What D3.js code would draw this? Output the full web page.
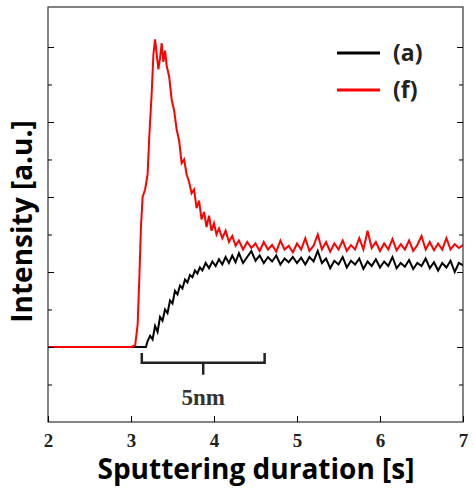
<!DOCTYPE html>
<html><head><meta charset="utf-8">
<script src="https://cdn.jsdelivr.net/npm/d3@7/dist/d3.min.js"></script>
<style>body{margin:0;background:#fff}</style></head>
<body><svg id="c" width="474" height="496"></svg>
<script>
const xTicks=[2,3,4,5,6,7];
const yMajor=[0,1,2,3,4];
const yMinor=[-0.5,0.5,1.5,2.5,3.5];
const seriesNames=["(a)","(f)"];
const seriesColors=["#000000","#ff0000"];
const redData=[[2,0],[3.0,0],[3.05,0.02],[3.08,0.3],[3.1,0.9],[3.12,1.6],[3.14,2.0],[3.17,2.1],[3.2,2.3],[3.22,2.8],[3.25,3.4],[3.27,3.9],[3.29,4.1],[3.31,3.9],[3.33,3.7],[3.35,3.85],[3.37,4.05],[3.39,3.8],[3.41,3.95],[3.43,3.75],[3.46,3.6],[3.49,3.3],[3.52,3.15],[3.55,2.9],[3.58,2.75],[3.61,2.45],[3.64,2.5],[3.67,2.3],[3.7,2.2],[3.73,2.05],[3.76,2.1],[3.79,1.85],[3.82,1.95],[3.85,1.7],[3.88,1.8],[3.91,1.6],[3.94,1.75],[3.97,1.55],[4.0,1.65],[4.03,1.5],[4.06,1.58],[4.1,1.45],[4.14,1.55],[4.18,1.4],[4.22,1.48],[4.26,1.35],[4.3,1.42],[4.35,1.3],[4.4,1.4],[4.45,1.32],[4.5,1.38],[4.55,1.28],[4.6,1.4],[4.65,1.3],[4.7,1.36],[4.75,1.27],[4.8,1.42],[4.85,1.3],[4.9,1.35],[4.95,1.26],[5.0,1.38],[5.05,1.3],[5.1,1.45],[5.15,1.28],[5.2,1.35],[5.25,1.5],[5.3,1.3],[5.35,1.4],[5.4,1.27],[5.45,1.38],[5.5,1.3],[5.55,1.42],[5.6,1.28],[5.65,1.36],[5.7,1.3],[5.75,1.45],[5.8,1.3],[5.85,1.55],[5.9,1.32],[5.95,1.4],[6.0,1.28],[6.05,1.38],[6.1,1.3],[6.15,1.44],[6.2,1.29],[6.25,1.37],[6.3,1.3],[6.35,1.42],[6.4,1.28],[6.45,1.36],[6.5,1.48],[6.55,1.3],[6.6,1.4],[6.65,1.29],[6.7,1.38],[6.75,1.3],[6.8,1.45],[6.85,1.3],[6.9,1.37],[6.95,1.32],[7.05,1.4]];
const blackData=[[2,0],[3.18,0],[3.2,0.08],[3.23,0.15],[3.26,0.1],[3.29,0.28],[3.32,0.2],[3.35,0.4],[3.38,0.35],[3.41,0.5],[3.44,0.45],[3.47,0.62],[3.5,0.58],[3.53,0.75],[3.56,0.7],[3.59,0.82],[3.62,0.78],[3.65,0.9],[3.68,0.86],[3.71,0.96],[3.74,0.93],[3.77,1.02],[3.8,0.98],[3.83,1.06],[3.86,1.02],[3.9,1.12],[3.94,1.05],[3.98,1.14],[4.02,1.08],[4.06,1.17],[4.1,1.1],[4.14,1.2],[4.18,1.12],[4.22,1.22],[4.26,1.13],[4.3,1.25],[4.35,1.12],[4.4,1.2],[4.45,1.28],[4.5,1.15],[4.55,1.22],[4.6,1.12],[4.65,1.2],[4.7,1.14],[4.75,1.22],[4.8,1.1],[4.85,1.18],[4.9,1.13],[4.95,1.2],[5.0,1.12],[5.05,1.19],[5.1,1.1],[5.15,1.2],[5.2,1.14],[5.25,1.28],[5.3,1.12],[5.35,1.18],[5.4,1.05],[5.45,1.15],[5.5,1.1],[5.55,1.2],[5.6,1.06],[5.65,1.15],[5.7,1.1],[5.75,1.18],[5.8,1.04],[5.85,1.14],[5.9,1.08],[5.95,1.17],[6.0,1.06],[6.05,1.14],[6.1,1.08],[6.15,1.2],[6.2,1.05],[6.25,1.12],[6.3,1.07],[6.35,1.16],[6.4,1.04],[6.45,1.12],[6.5,1.08],[6.55,1.18],[6.6,1.05],[6.65,1.13],[6.7,1.02],[6.75,1.12],[6.8,1.06],[6.85,1.15],[6.9,1.0],[6.95,1.12],[7.05,1.06]];
const bracket={x0:3.13,x1:4.61,xc:3.87,label:"5nm"};

const svg=d3.select("#c");
const L=48,R=463,T=7,B=422;
const x=d3.scaleLinear().domain([2,7]).range([L,R]);
const y=d3.scaleLinear().domain([-1,4.533]).range([B,T]);
const g=svg.append("g");
g.append("clipPath").attr("id","cp").append("rect").attr("x",L).attr("y",T).attr("width",R-L).attr("height",B-T);
const line=d3.line().x(d=>x(d[0])).y(d=>y(d[1]));
const pl=g.append("g").attr("clip-path","url(#cp)");
pl.append("path").datum(blackData).attr("d",line).attr("fill","none").attr("stroke",seriesColors[0]).attr("stroke-width",2);
pl.append("path").datum(redData).attr("d",line).attr("fill","none").attr("stroke",seriesColors[1]).attr("stroke-width",2);
g.append("rect").attr("x",L).attr("y",T).attr("width",R-L).attr("height",B-T).attr("fill","none").attr("stroke","#333").attr("stroke-width",1.2);
const ax=g.append("g").attr("transform",`translate(0,${B})`).call(d3.axisBottom(x).tickValues(xTicks).tickSize(-6).tickPadding(12).tickFormat(d3.format("d")));
ax.select(".domain").remove();
ax.selectAll("text").attr("font-family","Liberation Serif").attr("font-weight","bold").attr("font-size",19).attr("fill","#222");
[[d3.axisLeft,L,-6],[d3.axisRight,R,-6]].forEach(([f,px,s])=>{
  const a=g.append("g").attr("transform",`translate(${px},0)`).call(f(y).tickValues(yMajor).tickSize(s).tickFormat(""));
  a.select(".domain").remove();
  const b=g.append("g").attr("transform",`translate(${px},0)`).call(f(y).tickValues(yMinor).tickSize(-4).tickFormat(""));
  b.select(".domain").remove();
});
seriesNames.forEach((n,i)=>{
  const ly=53+i*37;
  g.append("line").attr("x1",337).attr("x2",380).attr("y1",ly).attr("y2",ly).attr("stroke",seriesColors[i]).attr("stroke-width",3);
  g.append("text").attr("x",393).attr("y",ly+8).text(n).attr("font-family","Open Sans").attr("font-weight","bold").attr("font-size",23).attr("fill","#222");
});
const by=y(-0.08),bb=y(-0.21);
g.append("path").attr("d",`M${x(bracket.x0)},${by}V${bb}H${x(bracket.x1)}V${by}M${x(bracket.xc)},${bb}V${bb+12}`).attr("fill","none").attr("stroke","#222").attr("stroke-width",2.5);
g.append("text").attr("x",x(bracket.xc)).attr("y",405).attr("text-anchor","middle").text(bracket.label).attr("font-family","Liberation Serif").attr("font-weight","bold").attr("font-size",23).attr("fill","#333");
svg.append("text").attr("x",256).attr("y",479).attr("text-anchor","middle").text("Sputtering duration [s]").attr("font-family","Open Sans").attr("font-weight","bold").attr("font-size",28);
svg.append("text").attr("transform",`translate(32,${(T+B)/2+7}) rotate(-90)`).attr("text-anchor","middle").text("Intensity [a.u.]").attr("font-family","Open Sans").attr("font-weight","bold").attr("font-size",28);
</script></body></html>
